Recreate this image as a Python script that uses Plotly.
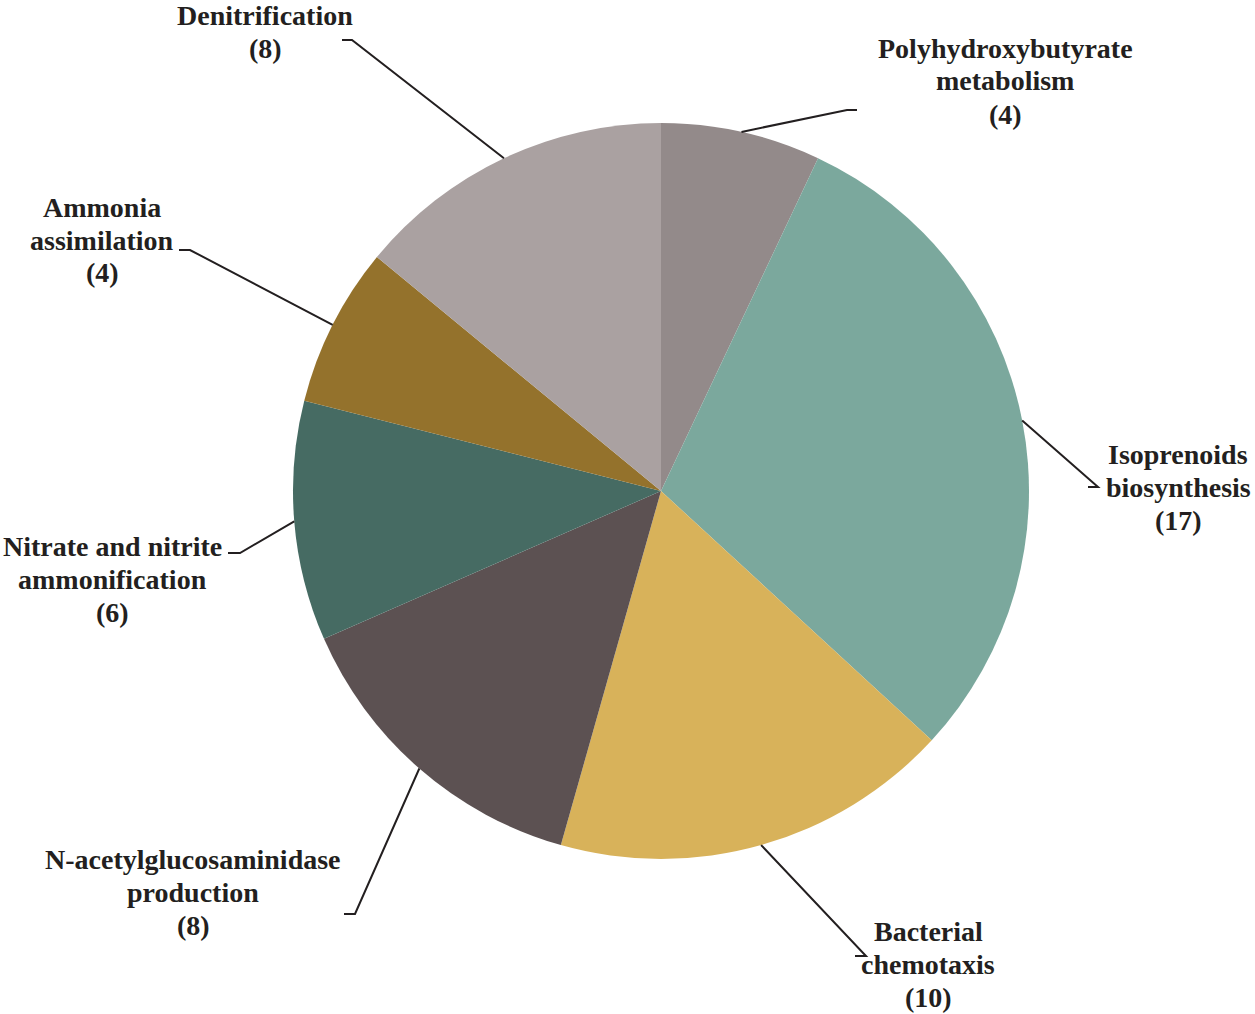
import numpy as np
import plotly.graph_objects as go

# slices, clockwise from 12 o'clock
names = [["Polyhydroxybutyrate", "metabolism"], ["Isoprenoids", "biosynthesis"],
         ["Bacterial", "chemotaxis"], ["N-acetylglucosaminidase", "production"],
         ["Nitrate and nitrite", "ammonification"], ["Ammonia", "assimilation"],
         ["Denitrification"]]
counts = [4, 17, 10, 8, 6, 4, 8]
colors = ["#938a8a", "#7ba89d", "#d8b25a", "#5c5152", "#466b63", "#94722c", "#aaa1a1"]

W, H = 1255, 1014
cx, cy, R = 661, 491, 368          # pie centre / radius in px

# label box centres and elbow points (px)
label_xy = [(1005, 81), (1178, 487), (928, 964), (193, 892), (112, 579), (102, 240), (265, 32)]
elbow = [(847, 857, 110), (1098, 1088, 487), (866, 855, 956), (355, 344, 914),
         (240, 228, 553), (190, 179, 250), (352, 342, 40)]
LINE = 33

fig = go.Figure(go.Pie(
    values=counts, labels=[" ".join(n) for n in names], sort=False,
    direction="clockwise", rotation=0,
    marker=dict(colors=colors, line=dict(width=0)),
    textinfo="none", showlegend=False,
    domain=dict(x=[(cx - R) / W, (cx + R) / W], y=[1 - (cy + R) / H, 1 - (cy - R) / H]),
))

px_ = lambda x: x / W
py_ = lambda y: 1 - y / H

total = sum(counts)
cum = np.cumsum([0] + counts)
for i, (nm, n) in enumerate(zip(names, counts)):
    ang = np.deg2rad((cum[i] + n / 2) / total * 360)
    sx, sy = cx + R * np.sin(ang), cy - R * np.cos(ang)
    ex, hx, ey = elbow[i]
    fig.add_shape(type="path", xref="paper", yref="paper",
                  path=f"M {px_(sx)} {py_(sy)} L {px_(ex)} {py_(ey)} L {px_(hx)} {py_(ey)}",
                  line=dict(color="#231f20", width=2))
    lx, ly = label_xy[i]
    lines = nm + [f"({n})"]
    for k, t in enumerate(lines):
        yy = ly + (k - (len(lines) - 1) / 2) * LINE
        fig.add_annotation(x=px_(lx), y=py_(yy), xref="paper", yref="paper",
                           text=f"<b>{t}</b>", showarrow=False,
                           xanchor="center", yanchor="middle", borderpad=0,
                           font=dict(family="Liberation Serif", size=28, color="#231f20"))

fig.update_layout(width=W, height=H, margin=dict(l=0, r=0, t=0, b=0),
                  paper_bgcolor="white", plot_bgcolor="white")
fig.write_html("out.html", config={"displayModeBar": False},
               post_script="document.body.style.margin='0';")
